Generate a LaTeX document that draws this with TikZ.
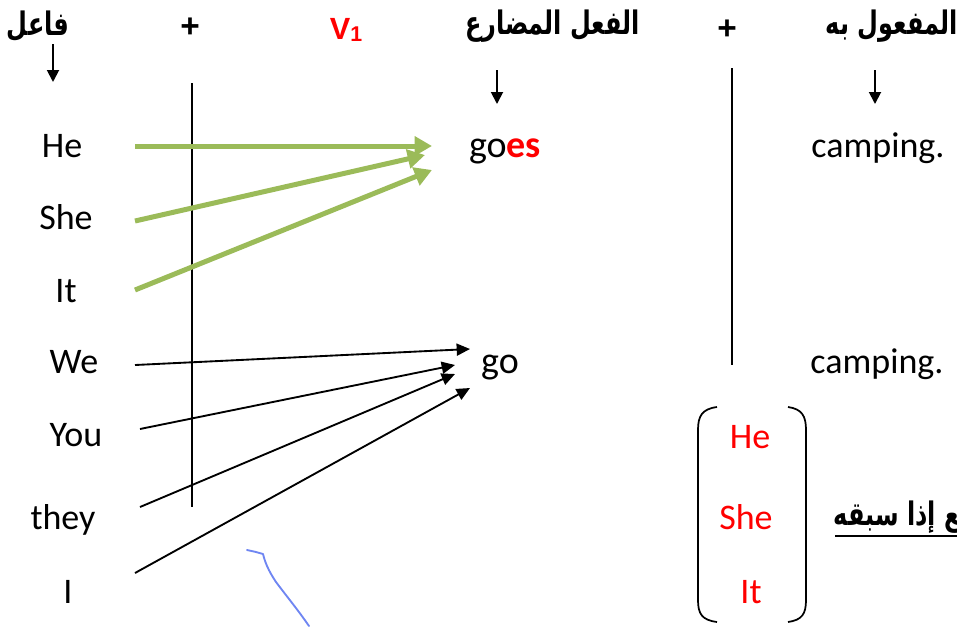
\documentclass[tikz,border=0pt]{standalone}
\usepackage{fontspec}
\setmainfont{Carlito}
\newfontfamily\arabicfont[Script=Arabic]{DejaVu Sans}
\newfontfamily\headfont{Liberation Sans}
\TeXXeTstate=1
\usetikzlibrary{arrows.meta}
\definecolor{grn}{HTML}{9BBB59}
\definecolor{rd}{HTML}{FF0000}
\definecolor{squig}{HTML}{6F86F2}
\newcommand{\artall}[1]{\scalebox{1}[1.35]{#1}}
\begin{document}
\begin{tikzpicture}[x=0.75pt,y=-0.75pt,
  word/.style={font=\fontsize{27}{32}\selectfont, inner sep=0pt, anchor=base},
  redword/.style={word, text=rd},
  arhead/.style={font=\arabicfont\bfseries\fontsize{18}{22}\selectfont, inner sep=0pt},
  plus/.style={font=\headfont\bfseries\fontsize{25}{28}\selectfont, inner sep=0pt},
  greenarrow/.style={draw=grn, line width=3.75pt, -{Triangle[length=13pt,width=14pt]}},
  blackarrow/.style={draw=black, line width=1.4pt, -{Triangle[length=10pt,width=9pt]}},
  downarrow/.style={draw=black, line width=1.4pt, -{Triangle[length=9pt,width=9pt]}},
  rule/.style={draw=black, line width=1.3pt},
]
\useasboundingbox (0,0) rectangle (957,626);

% headers
\node[arhead] (h1) at (38,26) {\artall{\beginR فاعل\endR}};
\node[plus] (p1) at (190,28) {+};
\node[font=\headfont\bfseries\fontsize{23}{26}\selectfont, text=rd, inner sep=0pt] (v1) at (346,30) {V\raisebox{-2pt}{\fontsize{16}{18}\selectfont 1}};
\node[arhead] (h2) at (553,26) {\artall{\beginR الفعل المضارع\endR}};
\node[plus] (p2) at (727,30) {+};
\node[arhead, anchor=east] (h3) at (958,26) {\artall{\beginR المفعول به\endR}};

% down arrows
\coordinate (d1a) at (53,44);  \coordinate (d1b) at (53,82);
\coordinate (d2a) at (497,70); \coordinate (d2b) at (497,104);
\coordinate (d3a) at (875,70); \coordinate (d3b) at (875,104);
\draw[downarrow] (d1a) -- (d1b);
\draw[downarrow] (d2a) -- (d2b);
\draw[downarrow] (d3a) -- (d3b);

% vertical rules
\coordinate (r1a) at (192,83);  \coordinate (r1b) at (192,507);
\coordinate (r2a) at (732,68);  \coordinate (r2b) at (732,365);
\draw[rule] (r1a) -- (r1b);
\draw[rule] (r2a) -- (r2b);

% subjects
\node[word] (he)   at (62,157)  {He};
\node[word] (she)  at (66,229)  {She};
\node[word] (it)   at (66,302)  {It};
\node[word] (we)   at (74,373)  {We};
\node[word] (you)  at (76,446)  {You};
\node[word] (they) at (63,529)  {they};
\node[word] (i)    at (68,603)  {I};

% verbs and objects
\node[word, font=\fontsize{28.5}{32}\selectfont] (goes) at (505,157) {go\textbf{\textcolor{rd}{es}}};
\node[word, font=\fontsize{28.5}{32}\selectfont] (go)   at (500,373) {go};
\node[word] (camp1) at (878,157) {camping.};
\node[word] (camp2) at (877,373) {camping.};

% green arrows
\coordinate (heS) at (135,146);  \coordinate (heE) at (432,146);
\coordinate (sheS) at (135,221); \coordinate (sheE) at (425,155);
\coordinate (itS) at (135,290);  \coordinate (itE) at (432,170);
\draw[greenarrow] (heS) -- (heE);
\draw[greenarrow] (sheS) -- (sheE);
\draw[greenarrow] (itS) -- (itE);

% black arrows
\coordinate (weS) at (135,365);   \coordinate (weE) at (470,349);
\coordinate (youS) at (140,429);  \coordinate (youE) at (455,365);
\coordinate (theyS) at (140,507); \coordinate (theyE) at (455,374);
\coordinate (iS) at (135,573);    \coordinate (iE) at (470,388);
\draw[blackarrow] (weS) -- (weE);
\draw[blackarrow] (youS) -- (youE);
\draw[blackarrow] (theyS) -- (theyE);
\draw[blackarrow] (iS) -- (iE);

% bracket group
\draw[line width=1.3pt] (717,407) .. controls (702,409) and (698,416) .. (698,430)
   -- (698,600) .. controls (698,614) and (702,620) .. (717,622);
\draw[line width=1.3pt] (788,407) .. controls (802,409) and (806,416) .. (806,430)
   -- (806,600) .. controls (806,614) and (802,620) .. (788,622);
\node[redword] (bhe)  at (750,448) {He};
\node[redword] (bshe) at (746,529) {She};
\node[redword] (bit)  at (751,603) {It};

% bottom arabic note (cut at the right edge, as in the reference)
\node[arhead, anchor=east] (note) at (961,517) {\artall{\beginR ‍ع إذا سبقه\endR}};
\draw[line width=2.2pt] (835,536) -- (957,536);

% blue scribble
\draw[squig, line width=1.4pt, line cap=round, line join=round]
  (247,550) -- (256,552) -- (263,554) .. controls (265,562) and (268,570) .. (276,582)
  .. controls (288,598) and (298,610) .. (309,626);
\end{tikzpicture}
\end{document}
